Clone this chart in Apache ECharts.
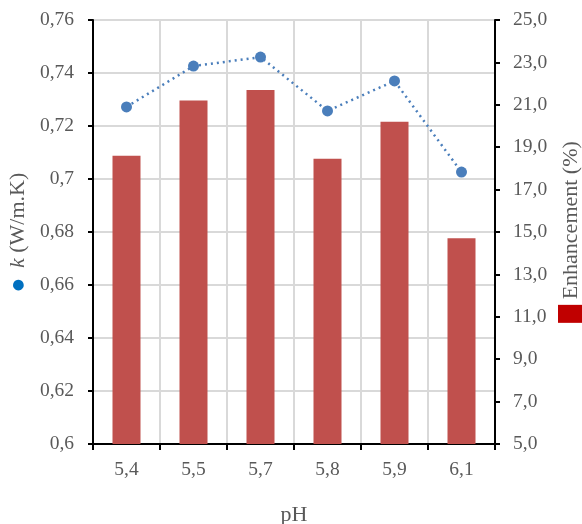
<!DOCTYPE html>
<html><head><meta charset="utf-8">
<script src="https://cdn.jsdelivr.net/npm/echarts@6/dist/echarts.min.js"></script>
<style>html,body{margin:0;padding:0;background:#fff}#c{width:582px;height:524px}</style>
</head><body><div id="c"></div>
<script>
var categories = ['5,4','5,5','5,7','5,8','5,9','6,1'];
var kValues = [0.7272, 0.7426, 0.7460, 0.7257, 0.7370, 0.7026];
var enhancement = [18.6, 21.2, 21.7, 18.45, 20.2, 14.7];
var leftTicks = {min: 0.6, max: 0.76, interval: 0.02};
var rightTicks = {min: 5, max: 25, interval: 2};

var FONT = '"Liberation Serif", "DejaVu Serif", serif';
var GRAY = '#595959';
var chart = echarts.init(document.getElementById('c'));
chart.setOption({
  animation: false,
  grid: {left: 93, right: 87, top: 20, bottom: 80, containLabel: false, outerBoundsMode: 'none'},
  xAxis: {
    type: 'category', data: categories, boundaryGap: true,
    name: 'pH', nameLocation: 'middle', nameGap: 60,
    nameTextStyle: {fontFamily: FONT, fontSize: 22, color: GRAY},
    axisLine: {lineStyle: {color: '#000', width: 2}},
    axisTick: {show: true, alignWithLabel: false, length: 6, lineStyle: {color: '#000', width: 2}},
    axisLabel: {fontFamily: FONT, fontSize: 19.5, color: GRAY, margin: 16},
    splitLine: {show: true, lineStyle: {color: '#d9d9d9', width: 2}}
  },
  yAxis: [{
    type: 'value', min: leftTicks.min, max: leftTicks.max, interval: leftTicks.interval,
    name: '{dot|●}  {k|k} (W/m.K)', nameLocation: 'middle', nameGap: 51, nameRotate: 90,
    nameTextStyle: {fontFamily: FONT, fontSize: 22, color: GRAY,
      rich: {dot: {color: '#0070c0', fontSize: 14, fontFamily: '"DejaVu Sans", sans-serif'},
             k: {fontStyle: 'italic', fontSize: 22, color: GRAY, fontFamily: FONT}}},
    axisLine: {show: true, lineStyle: {color: '#000', width: 2}},
    axisTick: {show: true, length: 5, lineStyle: {color: '#000', width: 2}},
    axisLabel: {fontFamily: FONT, fontSize: 19.5, color: GRAY, margin: 19,
      formatter: function (v) { return String(Math.round(v * 100) / 100).replace('.', ','); }},
    splitLine: {show: true, lineStyle: {color: '#d9d9d9', width: 2}}
  }, {
    type: 'value', min: rightTicks.min, max: rightTicks.max, interval: rightTicks.interval,
    position: 'right',
    name: '{sq|} Enhancement (%)', nameLocation: 'middle', nameGap: 57, nameRotate: 90,
    nameTextStyle: {fontFamily: FONT, fontSize: 22, color: GRAY,
      rich: {sq: {backgroundColor: '#c00000', width: 18, height: 27}}},
    axisLine: {show: true, lineStyle: {color: '#000', width: 2}},
    axisTick: {show: true, length: 5, lineStyle: {color: '#000', width: 2}},
    axisLabel: {fontFamily: FONT, fontSize: 19.5, color: GRAY, margin: 18,
      formatter: function (v) { return v.toFixed(1).replace('.', ','); }},
    splitLine: {show: false}
  }],
  series: [{
    type: 'bar', yAxisIndex: 1, data: enhancement, barWidth: 28,
    itemStyle: {color: '#c0504d'}, z: 2
  }, {
    type: 'line', yAxisIndex: 0, data: kValues,
    symbol: 'circle', symbolSize: 11,
    itemStyle: {color: '#4a7ebb'},
    lineStyle: {color: '#4a7ebb', width: 2.5, type: [2, 4]}, z: 3
  }]
});
</script></body></html>
